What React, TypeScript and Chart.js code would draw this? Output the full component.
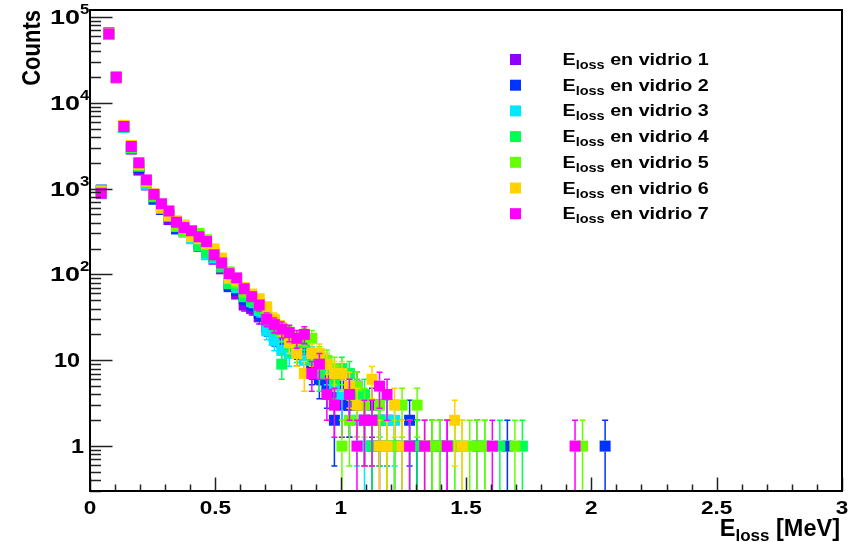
import React, { useEffect, useRef } from "react";
import { Chart, registerables } from "chart.js";

Chart.register(...registerables);

// Bin centres (MeV), bin width 0.03 MeV
const energies = [
  0.045, 0.075, 0.105, 0.135, 0.165, 0.195, 0.225, 0.255, 0.285, 0.315,
  0.345, 0.375, 0.405, 0.435, 0.465, 0.495, 0.525, 0.555, 0.585, 0.615,
  0.645, 0.675, 0.705, 0.735, 0.765, 0.795, 0.825, 0.855, 0.885, 0.915,
  0.945, 0.975, 1.005, 1.035, 1.065, 1.095, 1.125, 1.155, 1.185, 1.215,
  1.245, 1.275, 1.305, 1.335, 1.365, 1.395, 1.425, 1.455, 1.485, 1.515,
  1.545, 1.575, 1.605, 1.635, 1.665, 1.695, 1.725, 1.755, 1.785, 1.815,
  1.845, 1.875, 1.905, 1.935, 1.965, 1.995, 2.025, 2.055,
];

const vidrio1 = [
  940, 65000, 19500, 5250, 2880, 1640, 1100, 820, 620, 435,
  380, 320, 290, 212, 200, 150, 116, 75, 59, 44,
  40, 32, 28, 22, 20, 17, 14, 11, 9, 8,
  6, 4, 3, 3, 5, 2, 3, 1, 2, 0,
  1, 0, 1, 0, 1, 0, 1, 0, 0, 0,
  0, 0, 0, 0, 0, 0, 0, 0, 0, 0,
  0, 0, 0, 0, 0, 0, 0, 0,
];
const vidrio2 = [
  960, 63000, 19600, 5200, 2960, 1750, 1150, 750, 570, 470,
  338, 330, 300, 230, 210, 160, 125, 72, 65, 52,
  45, 35, 24, 19, 16, 18, 12, 14, 8, 6,
  5, 2, 5, 3, 3, 2, 1, 2, 1, 1,
  0, 2, 1, 0, 0, 1, 0, 0, 0, 0,
  1, 0, 0, 0, 1, 0, 0, 0, 0, 0,
  0, 0, 0, 0, 0, 0, 0, 1,
];
const vidrio3 = [
  870, 63500, 20200, 5150, 2990, 1900, 1120, 830, 600, 500,
  360, 310, 260, 240, 169, 155, 130, 80, 70, 58,
  48, 38, 22, 17, 13, 12, 16, 10, 11, 9,
  8, 5, 4, 4, 2, 1, 2, 3, 2, 2,
  1, 1, 0, 1, 0, 0, 0, 1, 0, 0,
  0, 0, 0, 0, 0, 0, 0, 0, 0, 0,
  0, 0, 0, 0, 0, 0, 0, 0,
];
const vidrio4 = [
  950, 63000, 19800, 5230, 2960, 1820, 1180, 800, 610, 480,
  367, 325, 280, 215, 180, 165, 122, 78, 75, 55,
  50, 41, 30, 25, 9, 15, 13, 16, 10, 7,
  9, 6, 8, 7, 4, 4, 1, 2, 1, 1,
  0, 1, 1, 0, 1, 0, 0, 0, 1, 0,
  0, 1, 0, 1, 0, 0, 1, 0, 0, 0,
  0, 0, 0, 0, 0, 0, 0, 0,
];
const vidrio5 = [
  930, 63500, 19700, 5260, 3050, 1870, 1200, 840, 630, 490,
  372, 318, 300, 300, 253, 175, 140, 107, 80, 62,
  55, 45, 35, 28, 21, 20, 17, 19, 18, 11,
  10, 8, 1, 2, 5, 3, 2, 3, 1, 1,
  3, 0, 3, 0, 1, 1, 0, 1, 0, 1,
  1, 1, 0, 0, 0, 1, 0, 0, 0, 0,
  0, 0, 0, 0, 1, 0, 0, 0,
];
const vidrio6 = [
  920, 63000, 19900, 5450, 3180, 1910, 1220, 870, 590, 478,
  420, 376, 275, 260, 225, 198, 155, 90, 85, 70,
  59, 52, 42, 30, 24, 16, 12, 7, 12, 12,
  9, 7, 7, 5, 3, 2, 6, 1, 1, 3,
  1, 0, 0, 1, 0, 0, 0, 2, 1, 0,
  0, 0, 0, 0, 0, 0, 0, 0, 0, 0,
  0, 0, 0, 0, 0, 0, 0, 0,
];
const vidrio7 = [
  880, 63200, 19700, 5280, 3085, 1995, 1260, 855, 665, 548,
  405, 351, 322, 274, 241, 169, 136, 102, 91, 68,
  55, 44, 30, 26, 23, 21, 18, 20, 7, 9,
  4, 3, 0, 4, 1, 2, 2, 5, 4, 0,
  0, 1, 0, 1, 0, 0, 1, 0, 0, 0,
  0, 0, 1, 0, 0, 0, 0, 0, 0, 0,
  0, 0, 0, 1, 0, 0, 0, 0,
];

const seriesCounts = [vidrio1, vidrio2, vidrio3, vidrio4, vidrio5, vidrio6, vidrio7];
const seriesNumbers = ["1", "2", "3", "4", "5", "6", "7"];
const seriesColors = ["#8f00ff", "#0033ff", "#00e8ff", "#00ff55", "#66ff00", "#ffd200", "#ff00ff"];

const xTickValues = [0, 0.5, 1, 1.5, 2, 2.5, 3];
const xTickLabels = ["0", "0.5", "1", "1.5", "2", "2.5", "3"];
const yDecadeExponents = [0, 1, 2, 3, 4, 5];

const X_MIN = 0;
const X_MAX = 3;
const Y_MIN = 0.3;
const Y_MAX = 1.2e5;

const FONT = '"Liberation Sans", Arial, Helvetica, sans-serif';
const MARKER_HALF = 5.5;

// draws text horizontally stretched by sx, anchored at (x, y) baseline
function stretchText(
  ctx: CanvasRenderingContext2D,
  text: string,
  x: number,
  y: number,
  size: number,
  sx: number,
  align: "left" | "right" | "center"
) {
  ctx.save();
  ctx.font = `bold ${size}px ${FONT}`;
  ctx.textBaseline = "alphabetic";
  ctx.textAlign = align;
  ctx.translate(x, y);
  ctx.scale(sx, 1);
  ctx.fillText(text, 0, 0);
  ctx.restore();
}

function textWidth(ctx: CanvasRenderingContext2D, text: string, size: number, sx: number) {
  ctx.font = `bold ${size}px ${FONT}`;
  return ctx.measureText(text).width * sx;
}

function drawSubText(
  ctx: CanvasRenderingContext2D,
  x: number,
  y: number,
  main: string,
  sub: string,
  rest: string,
  size: number,
  subSize: number,
  subDrop: number,
  sx: number,
  align: "left" | "right"
) {
  const w1 = textWidth(ctx, main, size, sx);
  const w2 = textWidth(ctx, sub, subSize, sx);
  const w3 = textWidth(ctx, rest, size, sx);
  const start = align === "right" ? x - (w1 + w2 + w3) : x;
  stretchText(ctx, main, start, y, size, sx, "left");
  stretchText(ctx, sub, start + w1, y + subDrop, subSize, sx, "left");
  stretchText(ctx, rest, start + w1 + w2, y, size, sx, "left");
}

const rootPlugin = {
  id: "rootStyle",
  beforeDatasetDraw(chart: any, args: any) {
    const ds = chart.data.datasets[args.index];
    const ctx: CanvasRenderingContext2D = chart.ctx;
    const area = chart.chartArea;
    const xs = chart.scales.x;
    const ys = chart.scales.y;
    ctx.save();
    ctx.beginPath();
    ctx.rect(area.left, area.top, area.right - area.left, area.bottom - area.top);
    ctx.clip();
    ctx.strokeStyle = ds.backgroundColor;
    ctx.lineWidth = 1.5;
    const cap = 3;
    for (const p of ds.data) {
      const px = xs.getPixelForValue(p.x);
      const py = ys.getPixelForValue(p.y);
      const err = Math.sqrt(p.y);
      const top = ys.getPixelForValue(p.y + err);
      const low = p.y - err;
      const bot = low > 0 ? ys.getPixelForValue(low) : area.bottom + 20;
      ctx.beginPath();
      if (py - MARKER_HALF > top) {
        ctx.moveTo(px, py - MARKER_HALF);
        ctx.lineTo(px, top);
        ctx.moveTo(px - cap, top);
        ctx.lineTo(px + cap, top);
      }
      if (bot > py + MARKER_HALF) {
        ctx.moveTo(px, py + MARKER_HALF);
        ctx.lineTo(px, bot);
        ctx.moveTo(px - cap, bot);
        ctx.lineTo(px + cap, bot);
      }
      ctx.stroke();
    }
    ctx.restore();
  },
  afterDraw(chart: any) {
    const ctx: CanvasRenderingContext2D = chart.ctx;
    const area = chart.chartArea;
    const xs = chart.scales.x;
    const ys = chart.scales.y;
    ctx.save();

    // ticks (ROOT style, pointing inwards)
    ctx.strokeStyle = "#222";
    ctx.lineWidth = 1.5;
    ctx.beginPath();
    for (let i = 0; i <= 30; i++) {
      const v = i / 10;
      const px = Math.round(xs.getPixelForValue(v)) + 0.5;
      const len = i % 5 === 0 ? 13.5 : 6.5;
      ctx.moveTo(px, area.bottom);
      ctx.lineTo(px, area.bottom - len);
    }
    for (let e = -1; e <= 5; e++) {
      for (let m = 1; m <= 9; m++) {
        const v = m * Math.pow(10, e);
        if (v < Y_MIN || v > Y_MAX) continue;
        const py = Math.round(ys.getPixelForValue(v)) + 0.5;
        const len = m === 1 ? 22.5 : 11;
        ctx.moveTo(area.left, py);
        ctx.lineTo(area.left + len, py);
      }
    }
    ctx.stroke();

    // frame
    ctx.strokeStyle = "#000";
    ctx.lineWidth = 2;
    ctx.strokeRect(area.left, area.top, area.right - area.left, area.bottom - area.top);

    ctx.fillStyle = "#000";
    // x tick labels
    xTickValues.forEach((v, i) => {
      stretchText(ctx, xTickLabels[i], xs.getPixelForValue(v), 514, 18.5, 1.22, "center");
    });

    // y tick labels
    yDecadeExponents.forEach((e) => {
      const py = ys.getPixelForValue(Math.pow(10, e));
      if (e === 0) {
        stretchText(ctx, "1", 84, py + 7, 19.5, 1.2, "right");
      } else if (e === 1) {
        stretchText(ctx, "10", 80, py + 7, 19.5, 1.2, "right");
      } else {
        stretchText(ctx, String(e), 80, py - 3, 14, 1.2, "left");
        stretchText(ctx, "10", 80, py + 7, 20, 1.35, "right");
      }
    });

    // y title
    ctx.save();
    ctx.translate(40, 10);
    ctx.rotate(-Math.PI / 2);
    ctx.scale(1, 1.15);
    ctx.font = `bold 22px ${FONT}`;
    ctx.textAlign = "right";
    ctx.textBaseline = "alphabetic";
    ctx.fillText("Counts", 0, 0);
    ctx.restore();

    // x title
    drawSubText(ctx, 840, 536, "E", "loss", " [MeV]", 23.5, 17, 5, 1.0, "right");

    // legend
    seriesNumbers.forEach((n, i) => {
      const cy = 59.5 + i * 25.7;
      ctx.fillStyle = seriesColors[i];
      ctx.fillRect(510, cy - 5.5, 11, 11);
      ctx.fillStyle = "#000";
      drawSubText(ctx, 562.5, cy + 5.5, "E", "loss", " en vidrio " + n, 17, 12.5, 4, 1.16, "left");
    });

    ctx.restore();
  },
};

export default function App() {
  const canvasRef = useRef<HTMLCanvasElement | null>(null);

  useEffect(() => {
    const canvas = canvasRef.current;
    if (!canvas) return;
    const datasets = seriesCounts.map((counts, i) => ({
      label: "E_loss en vidrio " + seriesNumbers[i],
      data: energies
        .map((e, k) => (counts[k] > 0 ? { x: e, y: counts[k] } : null))
        .filter((p) => p !== null),
      backgroundColor: seriesColors[i],
      borderColor: seriesColors[i],
      pointStyle: "rect",
      pointRadius: MARKER_HALF * Math.SQRT2,
      pointHoverRadius: MARKER_HALF * Math.SQRT2,
      pointBorderWidth: 0,
      showLine: false,
      order: seriesCounts.length - i,
    }));
    const chart = new Chart(canvas, {
      type: "scatter",
      data: { datasets: datasets as any },
      options: {
        responsive: false,
        animation: false,
        devicePixelRatio: 1,
        layout: { padding: { left: 90, right: 9, top: 10, bottom: 51 } },
        plugins: { legend: { display: false }, tooltip: { enabled: false } },
        scales: {
          x: { type: "linear", min: X_MIN, max: X_MAX, display: false },
          y: { type: "logarithmic", min: Y_MIN, max: Y_MAX, display: false },
        },
      },
      plugins: [rootPlugin as any],
    });
    return () => chart.destroy();
  }, []);

  return (
    <div style={{ position: "fixed", left: 0, top: 0, width: 851, height: 542, background: "#fff" }}>
      <canvas ref={canvasRef} width={851} height={542} style={{ display: "block" }} />
    </div>
  );
}
